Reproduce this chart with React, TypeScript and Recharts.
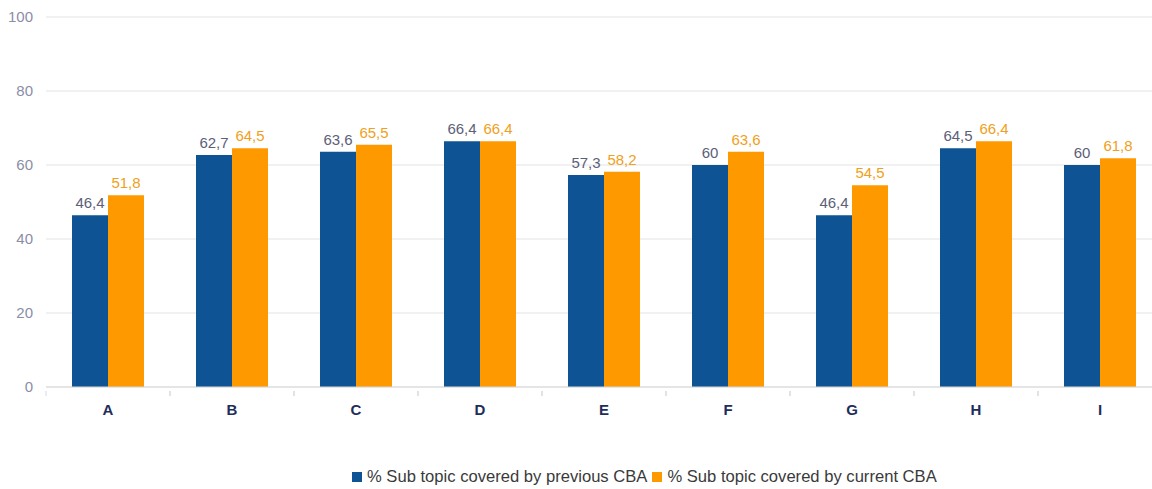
import React from 'react';
import { BarChart, Bar, XAxis, YAxis, CartesianGrid, LabelList } from 'recharts';

// categories and values
const categories = ['A', 'B', 'C', 'D', 'E', 'F', 'G', 'H', 'I'];
const previousCBA = [46.4, 62.7, 63.6, 66.4, 57.3, 60, 46.4, 64.5, 60];
const currentCBA = [51.8, 64.5, 65.5, 66.4, 58.2, 63.6, 54.5, 66.4, 61.8];
const yTicks = [0, 20, 40, 60, 80, 100];

const seriesNames = {
  previous: '% Sub topic covered by previous CBA',
  current: '% Sub topic covered by current CBA',
};

const BLUE = '#0e5394';
const ORANGE = '#ff9900';

const chartData = categories.map((c, i) => ({
  name: c,
  previous: previousCBA[i],
  current: currentCBA[i],
}));

const fmt = (v: any) => String(v).replace('.', ',');

const HALF_BAND = 62;

const CategoryTick = (props: any) => {
  const { x, y, payload } = props;
  return (
    <g>
      <line x1={x - HALF_BAND} y1={y - 2} x2={x - HALF_BAND} y2={y + 3} stroke="#d9d9d9" />
      <line x1={x + HALF_BAND} y1={y - 2} x2={x + HALF_BAND} y2={y + 3} stroke="#d9d9d9" />
      <text x={x} y={y + 22} textAnchor="middle" fill="#1f2d5a" fontSize={15} fontWeight="bold">
        {payload.value}
      </text>
    </g>
  );
};

export default function App() {
  return (
    <div
      style={{
        position: 'absolute',
        left: 0,
        top: 0,
        width: 1152,
        height: 489,
        overflow: 'hidden',
        background: '#fff',
        fontFamily: '"Liberation Sans", Arial, sans-serif',
      }}
    >
      <BarChart
        width={1162}
        height={489}
        data={chartData}
        margin={{ top: 17, right: 0, bottom: 72, left: 0 }}
        barGap={0}
        barSize={36}
      >
        <CartesianGrid vertical={false} stroke="#e3e3e3" />
        <XAxis
          dataKey="name"
          height={30}
          tickLine={false}
          axisLine={{ stroke: '#d9d9d9' }}
          tick={<CategoryTick />}
          interval={0}
          tickMargin={0}
        />
        <YAxis
          width={46}
          domain={[0, 100]}
          ticks={yTicks}
          axisLine={false}
          tickLine={false}
          tickMargin={7}
          tick={{ fill: '#8a8ea6', fontSize: 15 }}
        />
        <Bar dataKey="previous" name={seriesNames.previous} fill={BLUE} isAnimationActive={false}>
          <LabelList dataKey="previous" position="top" offset={7} fill="#5b6078" fontSize={15} formatter={fmt} />
        </Bar>
        <Bar dataKey="current" name={seriesNames.current} fill={ORANGE} isAnimationActive={false}>
          <LabelList dataKey="current" position="top" offset={7} fill="#f0a020" fontSize={15} formatter={fmt} />
        </Bar>
      </BarChart>
      <div
        style={{
          position: 'absolute',
          top: 467,
          left: 352,
          display: 'flex',
          alignItems: 'center',
          fontSize: 16.6,
          color: '#3a3a3a',
          whiteSpace: 'nowrap',
        }}
      >
        <span style={{ display: 'inline-block', width: 10, height: 10, background: BLUE, marginRight: 5 }} />
        <span style={{ marginRight: 5 }}>{seriesNames.previous}</span>
        <span style={{ display: 'inline-block', width: 10, height: 10, background: ORANGE, marginRight: 5 }} />
        <span>{seriesNames.current}</span>
      </div>
    </div>
  );
}
